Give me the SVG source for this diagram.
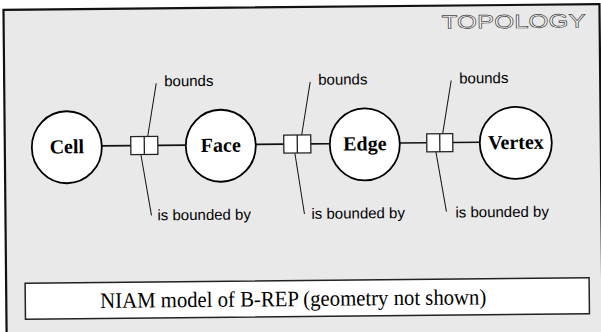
<svg xmlns="http://www.w3.org/2000/svg" width="601" height="332" viewBox="0 0 601 332">
<style>
.node{fill:#fff;stroke:#000;stroke-width:1.8}
.lbl{font-family:"Liberation Serif","Times New Roman",serif;font-weight:bold;font-size:20px;fill:#000;text-anchor:middle}
.role{fill:#fff;stroke:#222;stroke-width:1.3}
.conn{stroke:#111;stroke-width:1.6;fill:none}
.lead{stroke:#111;stroke-width:1;fill:none}
.rl{font-family:"Liberation Sans",Arial,sans-serif;font-size:15px;fill:#000}
</style>
<rect x="0" y="0" width="601" height="332" fill="#fff"/>
<g transform="rotate(-0.55 300 166)">
<rect id="frame" x="5" y="7" width="596" height="340" fill="#e9e9e9" stroke="#111" stroke-width="2.2"/>
<text id="title" x="443" y="30" textLength="144" lengthAdjust="spacingAndGlyphs" font-family="Liberation Sans, Arial, sans-serif" font-size="19" fill="#fff" stroke="#444" stroke-width="0.6">TOPOLOGY</text>
<g id="connectors">
<line class="conn" x1="102" y1="144" x2="131" y2="144"/>
<line class="conn" x1="158" y1="144" x2="187" y2="144"/>
<line class="conn" x1="256" y1="144" x2="284" y2="144"/>
<line class="conn" x1="311" y1="144" x2="330" y2="144"/>
<line class="conn" x1="400" y1="144" x2="427" y2="144"/>
<line class="conn" x1="453" y1="144" x2="481" y2="144"/>
<line class="lead" x1="148" y1="135" x2="157" y2="82"/>
<line class="lead" x1="302" y1="135" x2="311" y2="82"/>
<line class="lead" x1="443" y1="135" x2="452" y2="82"/>
<line class="lead" x1="141" y1="153" x2="151" y2="214"/>
<line class="lead" x1="295" y1="153" x2="304" y2="214"/>
<line class="lead" x1="436" y1="153" x2="446" y2="213"/>
</g>
<g id="cell"><ellipse class="node" cx="67" cy="145" rx="35" ry="36"/><text class="lbl" x="67" y="151">Cell</text></g>
<g id="face"><ellipse class="node" cx="221" cy="145" rx="35" ry="36"/><text class="lbl" x="221" y="151">Face</text></g>
<g id="edge"><ellipse class="node" cx="365" cy="145" rx="35" ry="36"/><text class="lbl" x="365" y="151">Edge</text></g>
<g id="vertex"><ellipse class="node" cx="516" cy="145" rx="36" ry="36"/><text class="lbl" x="516" y="151">Vertex</text></g>
<g id="role1"><rect class="role" x="131" y="135" width="27" height="18"/><line class="role" x1="144.5" y1="135" x2="144.5" y2="153"/></g>
<g id="role2"><rect class="role" x="284" y="135" width="27" height="18"/><line class="role" x1="297.5" y1="135" x2="297.5" y2="153"/></g>
<g id="role3"><rect class="role" x="427" y="135" width="26" height="18"/><line class="role" x1="440" y1="135" x2="440" y2="153"/></g>
<g id="labels">
<text class="rl" x="165" y="85">bounds</text>
<text class="rl" x="319" y="85">bounds</text>
<text class="rl" x="460" y="85">bounds</text>
<text class="rl" x="157" y="219">is bounded by</text>
<text class="rl" x="311" y="219">is bounded by</text>
<text class="rl" x="455" y="219">is bounded by</text>
</g>
<g id="caption">
<rect x="24" y="280.5" width="564" height="36" fill="#fff" stroke="#222" stroke-width="1.5"/>
<text x="99" y="306" textLength="386" lengthAdjust="spacingAndGlyphs" font-family="Liberation Serif, Times New Roman, serif" font-size="22" fill="#000">NIAM model of B-REP (geometry not shown)</text>
</g>
</g>
</svg>
